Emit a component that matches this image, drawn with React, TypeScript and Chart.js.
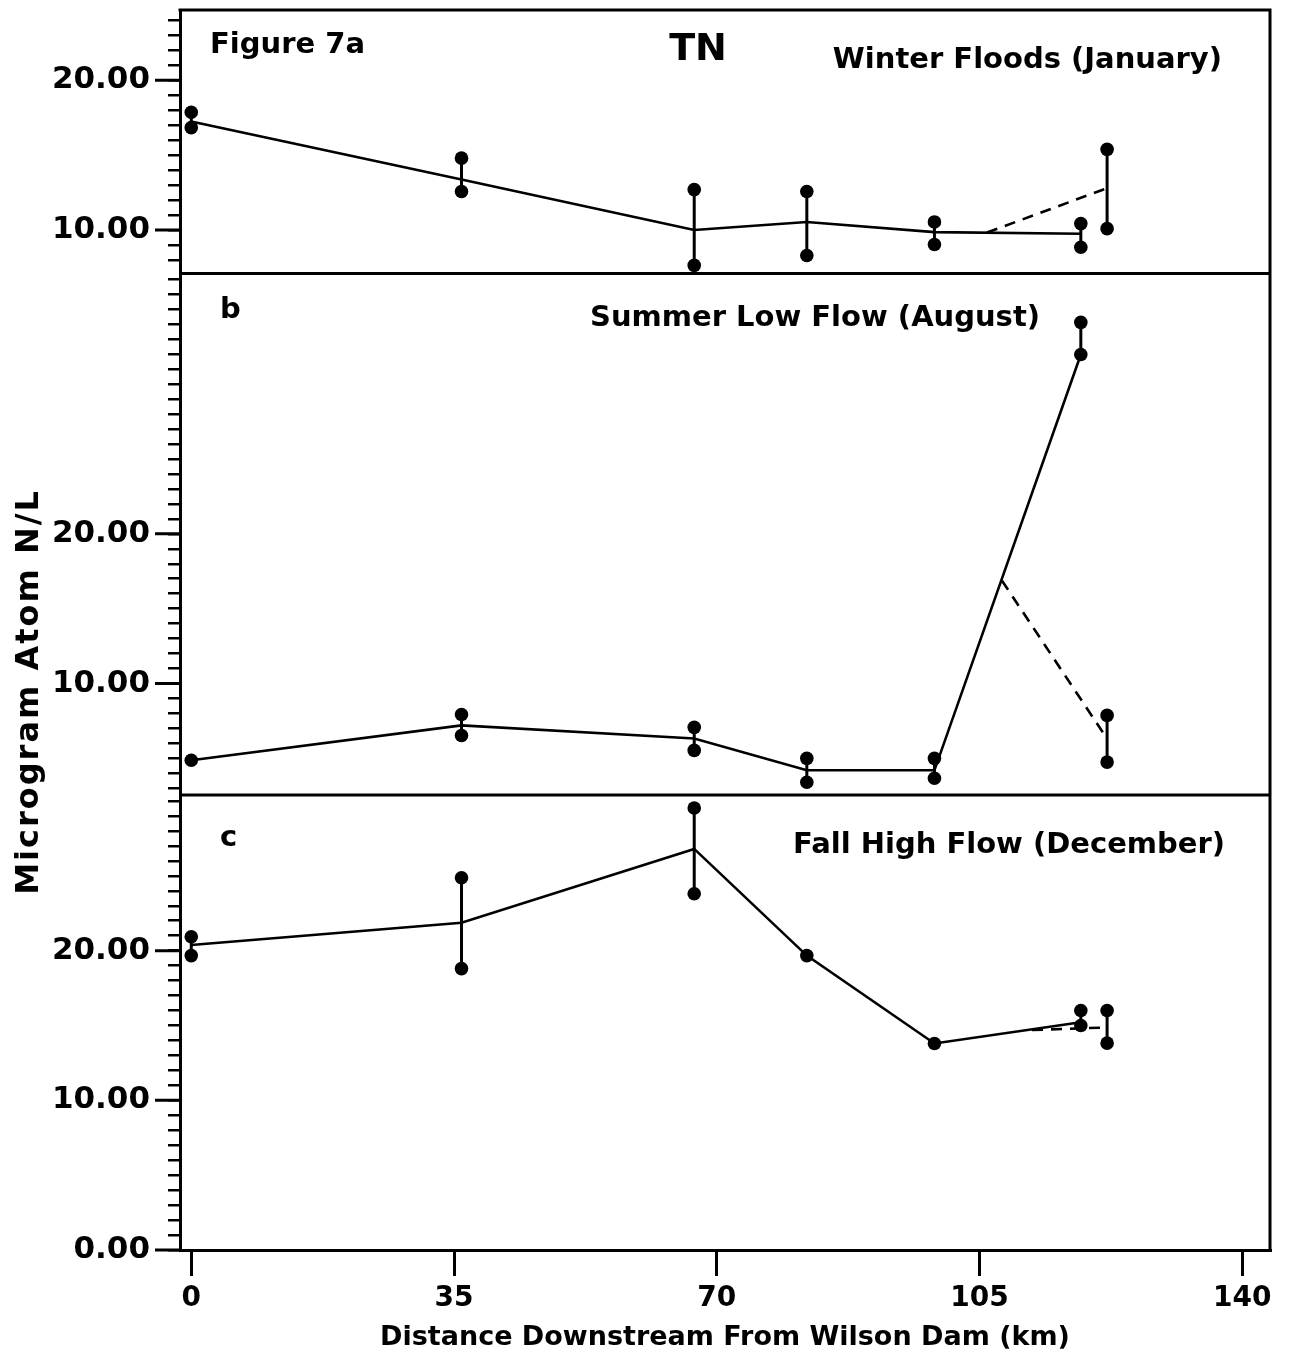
import React, { useEffect, useRef } from 'react';
import { Chart, registerables } from 'chart.js';

Chart.register(...registerables);

// Sampling stations (km downstream from Wilson Dam)
const stationKm = [0, 36, 67, 82, 99, 118.5, 122];
const meanKm = [0, 36, 67, 82, 99, 118.5];

// Panel a: Winter Floods (January)
const winterHigh = [17.87, 14.8, 12.7, 12.57, 10.54, 10.43, 15.39];
const winterLow = [16.84, 12.57, 7.64, 8.3, 9.03, 8.85, 10.09];
const winterMean = [17.25, 13.38, 10.0, 10.54, 9.86, 9.75];
const winterDashKm = [106, 122];
const winterDash = [9.83, 12.8];

// Panel b: Summer Low Flow (August)
const summerHigh = [4.87, 7.93, 7.07, 5.0, 5.0, 34.13, 7.87];
const summerLow = [null, 6.53, 5.53, 3.4, 3.67, 31.98, 4.75];
const summerMean = [4.87, 7.2, 6.33, 4.2, 4.2, 31.98];
const summerDashKm = [108, 122];
const summerDash = [16.87, 6.31];

// Panel c: Fall High Flow (December)
const fallHigh = [20.93, 24.87, 29.53, 19.67, 13.8, 16.0, 16.0];
const fallLow = [19.67, 18.8, 23.8, null, null, 15.0, 13.82];
const fallMean = [20.38, 21.87, 26.8, 19.67, 13.8, 15.22];
const fallDashKm = [112, 122];
const fallDash = [14.7, 14.87];

// Axis ranges / labels
const panelIds = ['ya', 'yb', 'yc'];
const panelMin = [7.1, 2.55, 0];
const panelMax = [24.7, 37.4, 30.4];
const yLabeledTicks = [0, 10, 20];
const xTickStep = 35;
const panelLetters = ['Figure 7a', 'b', 'c'];
const panelTitles = ['Winter Floods (January)', 'Summer Low Flow (August)', 'Fall High Flow (December)'];
const figureTag = 'TN';
const xTitle = 'Distance Downstream From Wilson Dam (km)';
const yTitle = 'Microgram Atom N/L';

const FONT = '"DejaVu Sans", "Liberation Sans", sans-serif';

type P = { x: number; y: number | null };

const pts = (xs: number[], ys: (number | null)[]): P[] => xs.map((x, i) => ({ x, y: ys[i] }));

function rangePoints(hi: (number | null)[], lo: (number | null)[]): P[] {
  const out: P[] = [];
  stationKm.forEach((x, i) => {
    if (hi[i] != null) out.push({ x, y: hi[i] });
    if (lo[i] != null) out.push({ x, y: lo[i] });
    out.push({ x, y: null });
  });
  return out;
}

function panelDatasets(id: string, hi: any[], lo: any[], mean: number[], dashKm: number[], dash: number[]) {
  return [
    {
      label: id + ' mean',
      data: pts(meanKm, mean),
      yAxisID: id,
      borderColor: '#000',
      borderWidth: 2.6,
      pointRadius: 0,
      tension: 0,
      fill: false,
    },
    {
      label: id + ' dashed',
      data: pts(dashKm, dash),
      yAxisID: id,
      borderColor: '#000',
      borderWidth: 2.6,
      borderDash: [11, 8],
      pointRadius: 0,
      tension: 0,
      fill: false,
    },
    {
      label: id + ' range',
      data: rangePoints(hi, lo),
      yAxisID: id,
      borderColor: '#000',
      borderWidth: 3,
      pointRadius: 6.8,
      pointBackgroundColor: '#000',
      pointBorderWidth: 0,
      spanGaps: false,
      tension: 0,
      fill: false,
    },
  ];
}

function yScale(idx: number) {
  return {
    type: 'linear',
    position: 'left',
    stack: 'panels',
    stackWeight: panelMax[idx] - panelMin[idx],
    min: panelMin[idx],
    max: panelMax[idx],
    border: { display: true, color: '#000', width: 3 },
    grid: { drawOnChartArea: false, drawTicks: true, tickLength: 12, lineWidth: 2.5, color: '#000' },
    ticks: {
      stepSize: 1,
      autoSkip: false,
      includeBounds: false,
      maxTicksLimit: 200,
      padding: 18,
      color: '#000',
      font: { family: FONT, weight: 'bold', size: 31 },
      callback: (v: any) => (yLabeledTicks.includes(Number(v)) ? Number(v).toFixed(2) : ''),
    },
    afterFit: (s: any) => {
      s.width = 180;
      s.paddingTop = 0;
      s.paddingBottom = 0;
    },
  };
}

const framePlugin = {
  id: 'frameAndText',
  afterDraw(chart: any) {
    const ctx = chart.ctx;
    const { left, right, top, bottom } = chart.chartArea;
    ctx.save();
    ctx.strokeStyle = '#000';
    ctx.lineCap = 'butt';
    ctx.lineWidth = 3;
    ctx.beginPath();
    ctx.moveTo(left - 1.5, top);
    ctx.lineTo(right, top);
    ctx.lineTo(right, bottom + 1.5);
    for (const id of panelIds.slice(1)) {
      const s = chart.scales[id];
      ctx.moveTo(left, s.top);
      ctx.lineTo(right, s.top);
    }
    ctx.stroke();

    // long major ticks
    ctx.lineWidth = 3;
    ctx.beginPath();
    for (const id of panelIds) {
      const s = chart.scales[id];
      for (const v of yLabeledTicks) {
        if (v >= s.min && v <= s.max) {
          const py = s.getPixelForValue(v);
          ctx.moveTo(left - 25, py);
          ctx.lineTo(left, py);
        }
      }
    }
    ctx.stroke();

    // texts
    ctx.fillStyle = '#000';
    ctx.textBaseline = 'middle';
    const sa = chart.scales.ya, sb = chart.scales.yb, sc = chart.scales.yc;
    ctx.font = `bold 29px ${FONT}`;
    ctx.textAlign = 'left';
    ctx.fillText(panelLetters[0], left + 30, sa.top + 35);
    ctx.fillText(panelLetters[1], left + 40, sb.top + 37);
    ctx.fillText(panelLetters[2], left + 40, sc.top + 43);
    ctx.textAlign = 'right';
    ctx.fillText(panelTitles[0], right - 48, sa.top + 50);
    ctx.fillText(panelTitles[1], right - 230, sb.top + 45);
    ctx.fillText(panelTitles[2], right - 45, sc.top + 50);
    ctx.textAlign = 'center';
    ctx.font = `bold 38px ${FONT}`;
    ctx.fillText(figureTag, 698, sa.top + 40);

    // y title
    ctx.font = `bold 32px ${FONT}`;
    try { (ctx as any).letterSpacing = '2px'; } catch (e) {}
    ctx.translate(30, 692);
    ctx.rotate(-Math.PI / 2);
    ctx.textAlign = 'center';
    ctx.fillText(yTitle, 0, 0);
    ctx.restore();
  },
};

export default function App() {
  const ref = useRef<HTMLCanvasElement>(null);
  useEffect(() => {
    const canvas = ref.current;
    if (!canvas) return;
    const datasets = [
      ...panelDatasets('ya', winterHigh, winterLow, winterMean, winterDashKm, winterDash),
      ...panelDatasets('yb', summerHigh, summerLow, summerMean, summerDashKm, summerDash),
      ...panelDatasets('yc', fallHigh, fallLow, fallMean, fallDashKm, fallDash),
    ];
    const chart = new Chart(canvas, {
      type: 'line',
      data: { datasets: datasets as any },
      options: {
        responsive: false,
        animation: false,
        events: [],
        layout: { padding: { top: 10, right: 24, left: 0, bottom: 0 } },
        plugins: { legend: { display: false }, tooltip: { enabled: false } },
        scales: {
          x: {
            type: 'linear',
            position: 'bottom',
            min: -1.5,
            max: 143.7,
            border: { display: true, color: '#000', width: 3 },
            grid: { drawOnChartArea: false, drawTicks: true, tickLength: 26, lineWidth: 3, color: '#000' },
            ticks: {
              stepSize: xTickStep,
              includeBounds: false,
              autoSkip: false,
              padding: 6,
              color: '#000',
              font: { family: FONT, weight: 'bold', size: 28 },
              callback: (v: any) => String(v),
            },
            title: {
              display: true,
              text: xTitle,
              color: '#000',
              font: { family: FONT, weight: 'bold', size: 27 },
              padding: { top: 0, bottom: 8 },
            },
            afterFit: (s: any) => {
              s.height = 112;
              s.paddingLeft = 0;
              s.paddingRight = 0;
            },
          },
          yc: yScale(2),
          yb: yScale(1),
          ya: yScale(0),
        } as any,
      },
      plugins: [framePlugin],
    });
    return () => chart.destroy();
  }, []);
  return (
    <div style={{ position: 'absolute', left: 0, top: 0, width: 1294, height: 1362, background: '#fff' }}>
      <canvas ref={ref} width={1294} height={1362} style={{ display: 'block' }} />
    </div>
  );
}
